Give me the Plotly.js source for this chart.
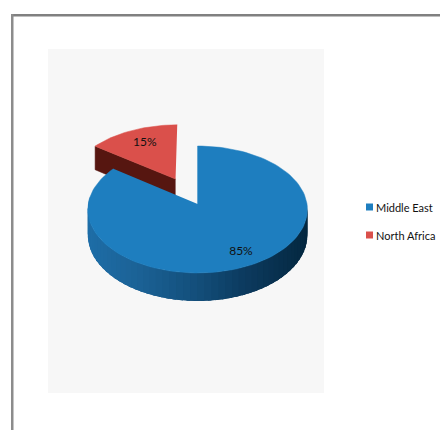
<!DOCTYPE html>
<html>
<head>
<meta charset="utf-8">
<script src="https://cdn.plot.ly/plotly-3.0.1.min.js"></script>
<style>html,body{margin:0;padding:0;background:#fff}#chart{width:440px;height:430px}</style>
</head>
<body>
<div id="chart"></div>
<script>
// Regional shares
const categories = ['Middle East', 'North Africa'];
const shares = [85, 15];
const sliceColors = ['#1e7ebf', '#da504b'];
const sideColors = ['#1e6ea8', '#561610'];
const explode = [0, 0.46];
const labelRadius = [0.8, 0.72];

// Tilted-disc projection, in axis units (the axes span the page in pixels)
const cx = 197.6, cy = 204, R = 109.4, A = 63, P = 0.0866, H = 25.6;
const project = (u, v, drop) => {
  const s = 1 / (1 - P * v);
  return [cx + R * u * s, cy + A * v * s + (drop || 0) * H * s];
};
const TAU = Math.PI * 2;
const total = shares.reduce((a, b) => a + b, 0);

// Angles run clockwise from twelve o'clock
let start = 0;
const slices = shares.map((val, i) => {
  const a0 = start, a1 = start + val / total * TAU;
  start = a1;
  const mid = (a0 + a1) / 2;
  return { a0, a1, mid, ox: Math.sin(mid) * explode[i], oy: -Math.cos(mid) * explode[i], i };
});
const unit = (s, a, r) => [s.ox + r * Math.sin(a), s.oy - r * Math.cos(a)];

const poly = (pts, color, width) => ({
  type: 'scatter', mode: 'lines', x: pts.map(p => p[0]), y: pts.map(p => p[1]),
  fill: 'toself', fillcolor: color, line: { color: color, width: width },
  hoverinfo: 'skip', showlegend: false
});

// Shading of the rim, left to right across the disc
const rimStops = [[-1, [30, 110, 168]], [-0.5, [27, 98, 150]], [0, [19, 78, 122]], [0.4, [12, 58, 94]], [1, [3, 38, 62]]];
const rimColor = u => {
  for (let k = 1; k < rimStops.length; k++) {
    const [u0, c0] = rimStops[k - 1], [u1, c1] = rimStops[k];
    if (u <= u1) {
      const t = (u - u0) / (u1 - u0);
      return 'rgb(' + c0.map((c, j) => Math.round(c + (c1[j] - c) * t)).join(',') + ')';
    }
  }
  return 'rgb(3,38,62)';
};

const traces = [];

// North Africa: wedge pulled away from the centre, side wall then top face
const red = slices[1];
const redApex = unit(red, 0, 0), redLeft = unit(red, red.a0, 1);
traces.push(poly([project(redApex[0], redApex[1], 0), project(redLeft[0], redLeft[1], 0),
                  project(redLeft[0], redLeft[1], 1), project(redApex[0], redApex[1], 1)], sideColors[1], 0.5));
const redTop = [project(redApex[0], redApex[1], 0)];
for (let k = 0; k <= 30; k++) {
  const p = unit(red, red.a0 + (red.a1 - red.a0) * k / 30, 1);
  redTop.push(project(p[0], p[1], 0));
}
traces.push(poly(redTop, sliceColors[1], 0.5));

// Middle East: rim drawn as narrow overlapping strips, then the top face over them
const blue = slices[0];
const strips = 90;
for (let k = 0; k < strips; k++) {
  const t0 = blue.a0 + (blue.a1 - blue.a0) * k / strips;
  const t1 = blue.a0 + (blue.a1 - blue.a0) * (k + 1) / strips;
  const a = unit(blue, t0, 1), b = unit(blue, t1, 1);
  if (Math.max(a[1], b[1]) < 0) continue;
  const overlap = unit(blue, t1 + (t1 - t0) * 1.5, 1);
  traces.push(poly([project(a[0], a[1], 0), project(overlap[0], overlap[1], 0),
                    project(overlap[0], overlap[1], 1), project(a[0], a[1], 1)], rimColor((a[0] + b[0]) / 2), 0));
}
const blueTop = [project(0, 0, 0)];
for (let k = 0; k <= 120; k++) {
  const p = unit(blue, blue.a0 + (blue.a1 - blue.a0) * k / 120, 1);
  blueTop.push(project(p[0], p[1], 0));
}
traces.push(poly(blueTop, sliceColors[0], 0.5));

// Percentage labels
const labelPts = slices.map(s => {
  const p = unit(s, s.mid, labelRadius[s.i]);
  return project(p[0], p[1], 0);
});
traces.push({
  type: 'scatter', mode: 'text',
  x: labelPts.map(p => p[0] + 1), y: labelPts.map(p => p[1]),
  text: shares.map(v => v + '%'), textposition: 'middle center',
  textfont: { family: 'Lato, Liberation Sans, sans-serif', size: 12, color: '#111111' },
  hoverinfo: 'skip', showlegend: false
});

// Key on the right
const keyX = 369.5, keyY = [207, 235];
traces.push({
  type: 'scatter', mode: 'markers',
  x: keyY.map(() => keyX), y: keyY,
  marker: { symbol: 'square', size: 7, color: sliceColors, line: { width: 0 } },
  hoverinfo: 'skip', showlegend: false
});

const layout = {
  width: 440, height: 430,
  margin: { l: 0, r: 0, t: 0, b: 0 },
  paper_bgcolor: '#ffffff', plot_bgcolor: 'rgba(0,0,0,0)',
  showlegend: false,
  xaxis: { range: [0, 440], visible: false, fixedrange: true },
  yaxis: { range: [430, 0], visible: false, fixedrange: true },
  shapes: [
    { type: 'rect', layer: 'below', xref: 'x', yref: 'y', x0: 48, x1: 324, y0: 49, y1: 393, fillcolor: '#f7f7f7', line: { width: 0 } },
    { type: 'rect', layer: 'below', xref: 'x', yref: 'y', x0: 11, x1: 440, y0: 14, y1: 16.5, fillcolor: '#808080', line: { width: 0 } },
    { type: 'rect', layer: 'below', xref: 'x', yref: 'y', x0: 11, x1: 13.5, y0: 14, y1: 430, fillcolor: '#8c8c8c', line: { width: 0 } }
  ],
  annotations: categories.map((c, i) => ({
    xref: 'x', yref: 'y', x: 375, y: keyY[i], text: c, showarrow: false,
    xanchor: 'left', yanchor: 'middle', xshift: -1,
    font: { family: 'Lato, Liberation Sans, sans-serif', size: 11, color: '#111111' }
  }))
};

Plotly.newPlot('chart', traces, layout, { staticPlot: true, displayModeBar: false });
</script>
</body>
</html>
